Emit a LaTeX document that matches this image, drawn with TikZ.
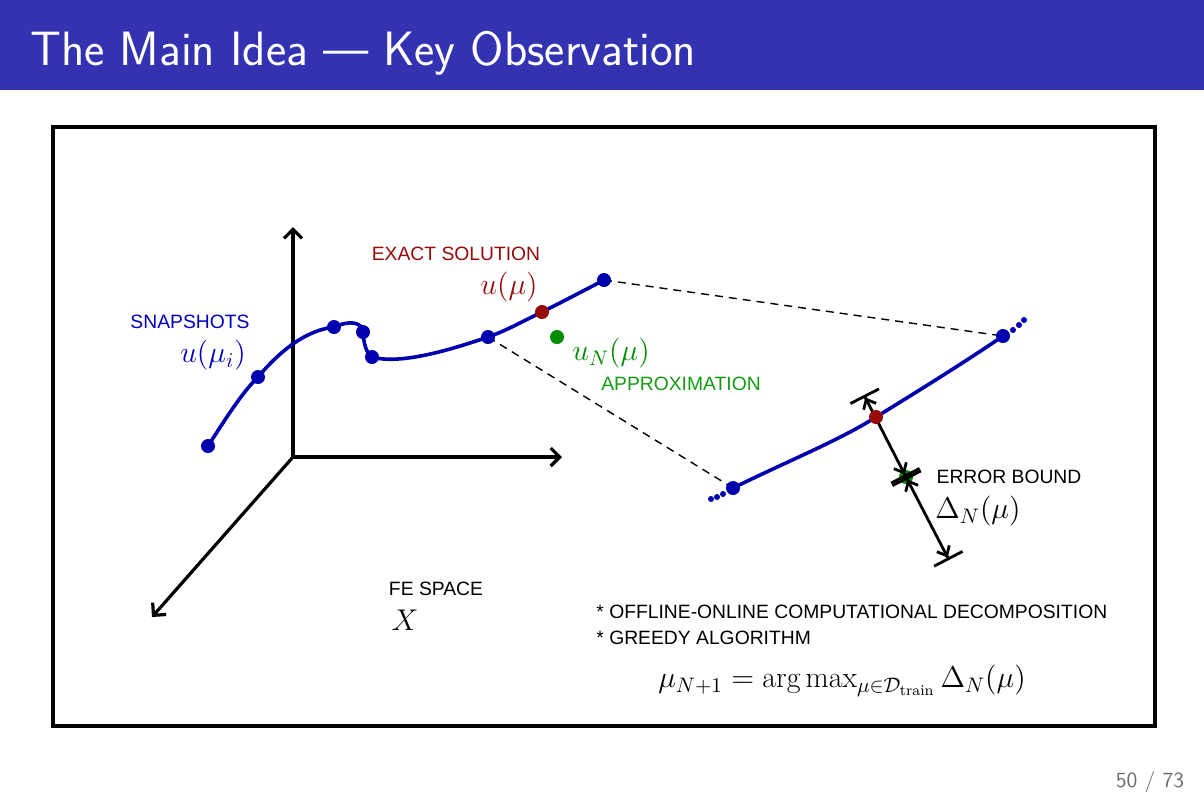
\RequirePackage{fix-cm}
\documentclass[tikz,border=0pt]{standalone}
\usepackage{fontspec}
\newfontfamily\labelfont{Liberation Sans}
\usetikzlibrary{arrows.meta}
\definecolor{barblue}{RGB}{51,51,178}
\definecolor{curveblue}{RGB}{0,0,175}
\definecolor{snapblue}{RGB}{0,0,190}
\definecolor{exactred}{RGB}{150,10,10}
\definecolor{approxgreen}{RGB}{0,140,0}
\definecolor{approxtext}{RGB}{20,155,20}
\definecolor{pagegray}{RGB}{110,110,110}
\begin{document}
\begin{tikzpicture}[x=0.5pt,y=-0.5pt,
  dot/.style={circle,fill=curveblue,inner sep=0pt,minimum size=7pt},
  tinydot/.style={circle,fill=curveblue,inner sep=0pt,minimum size=3pt},
  curve/.style={draw=curveblue,line width=1.8pt},
  axis/.style={line width=1.6pt,-{Straight Barb[length=4.5pt,width=9pt]}},
  link/.style={line width=0.7pt,dash pattern=on 4pt off 3pt},
  bound/.style={line width=1.4pt,
    {Bar[width=16pt]Straight Barb[length=4pt,width=7pt]}-{Straight Barb[length=4pt,width=7pt]Bar[width=16pt]}},
  lbl/.style={inner sep=0pt,font=\labelfont\fontsize{9.65}{11}\selectfont},
  mth/.style={inner sep=0pt,font=\fontsize{15}{18}\selectfont}]
\useasboundingbox (0,0) rectangle (1204,800);

% slide title bar
\fill[barblue] (0,0) rectangle (1204,90);
\node[anchor=base west,inner sep=0pt,text=white,font=\fontsize{24.1}{30}\selectfont\sffamily] (title) at (30,65) {The Main Idea --- Key Observation};

% frame around the figure
\draw[line width=1.6pt] (53,127) rectangle (1155,726);

% axes of the space X
\coordinate (o) at (293,457);
\coordinate (ay) at (293,227);
\coordinate (ax) at (562,457);
\coordinate (az) at (152,617);
\draw[axis] (o) -- (ay);
\draw[axis] (o) -- (ax);
\draw[axis] (o) -- (az);

% solution manifold (left part)
\coordinate (p1) at (208,446);
\coordinate (p2) at (258,377);
\coordinate (p3) at (334,327);
\coordinate (p4) at (363,332);
\coordinate (p5) at (372,357);
\coordinate (p6) at (488,337);
\coordinate (pex) at (542,312);
\coordinate (p7) at (604,280);
\coordinate (pap) at (557,337);

% zoomed part of the manifold
\coordinate (q1) at (733,488);
\coordinate (qr) at (876,417);
\coordinate (q2) at (1003,336);
\coordinate (qg) at (906,477);
\coordinate (bt) at (864,395);
\coordinate (bb) at (949,560);

% dashed zoom lines
\draw[link] (p7) -- (q2);
\draw[link] (p6) -- (q1);

\draw[curve] (p1) .. controls (225,420) and (240,395) .. (p2)
  .. controls (285,345) and (310,330) .. (p3)
  .. controls (350,320) and (362,322) .. (p4)
  .. controls (364,345) and (366,352) .. (p5)
  .. controls (400,365) and (450,350) .. (p6)
  .. controls (508,330) and (525,320) .. (pex)
  .. controls (560,303) and (585,290) .. (p7);

\draw[curve] (q1) .. controls (790,460) and (840,440) .. (qr)
  .. controls (915,393) and (965,362) .. (q2);

% snapshots
\node[dot] (d1) at (p1) {};
\node[dot] (d2) at (p2) {};
\node[dot] (d3) at (p3) {};
\node[dot] (d4) at (p4) {};
\node[dot] (d5) at (p5) {};
\node[dot] (d6) at (p6) {};
\node[dot] (d7) at (p7) {};
\node[dot,fill=exactred] (dex) at (pex) {};
\node[dot,fill=approxgreen] (dap) at (pap) {};

\node[dot] (e1) at (q1) {};
\node[dot] (e2) at (q2) {};
\node[tinydot] (t1) at (723,494) {};
\node[tinydot] (t2) at (717,497) {};
\node[tinydot] (t3) at (711,499) {};
\node[tinydot] (t4) at (1013,330) {};
\node[tinydot] (t5) at (1019,325) {};
\node[tinydot] (t6) at (1024,320) {};

% error bound
\node[dot,fill=approxgreen] (eg) at (qg) {};
\draw[bound] (bt) -- (eg.center);
\draw[bound] (eg.center) -- (bb);
\node[dot,fill=exactred] (er) at (qr) {};

% labels
\node[lbl,text=snapblue] (snap) at (190,322) {SNAPSHOTS};
\node[mth,text=snapblue] (snapm) at (213,355) {$u(\mu_i)$};
\node[lbl,text=exactred] (exact) at (456,254) {EXACT SOLUTION};
\node[mth,text=exactred] (exactm) at (509,287) {$u(\mu)$};
\node[mth,text=approxgreen] (apm) at (611,353) {$u_N(\mu)$};
\node[lbl,text=approxtext] (ap) at (681,384) {APPROXIMATION};
\node[lbl] (eb) at (1009,477) {ERROR BOUND};
\node[mth] (ebm) at (978,511) {$\Delta_N(\mu)$};
\node[lbl] (fe) at (436,589) {FE SPACE};
\node[mth] (fem) at (405,620) {$X$};
\node[lbl,anchor=west] (n1) at (596,612) {* OFFLINE-ONLINE COMPUTATIONAL DECOMPOSITION};
\node[lbl,anchor=west] (n2) at (596,638) {* GREEDY ALGORITHM};
\node[mth] (greedy) at (842,681) {$\mu_{N+1} = \arg\max_{\mu\in\mathcal{D}_{\mathrm{train}}} \Delta_N(\mu)$};

% page number
\node[inner sep=0pt,text=pagegray,font=\fontsize{10.8}{12}\selectfont\sffamily] (page) at (1150,782) {50 / 73};
\end{tikzpicture}
\end{document}
